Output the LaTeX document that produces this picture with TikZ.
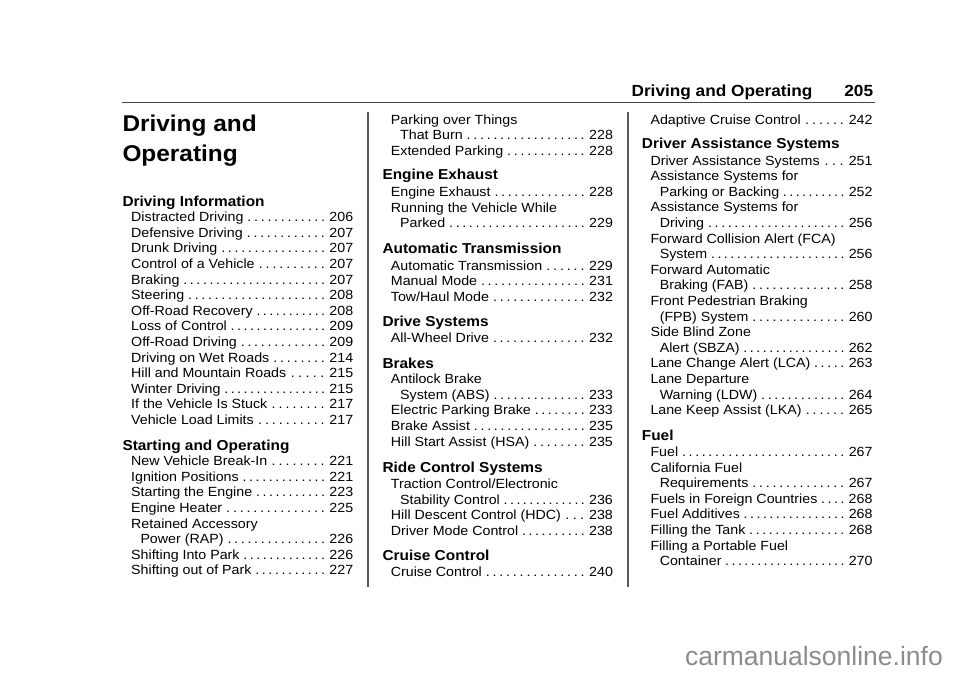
\documentclass[tikz,border=0pt]{standalone}
\usepackage{fontspec}
\setmainfont{Liberation Sans}[FakeStretch=1.07]
\newfontfamily\wmfont{Liberation Sans}
\usetikzlibrary{positioning}

% one line of the contents, with dot leaders up to the page number
\newcommand\tocpg[3]{\hbox to #1{#2\hspace{2.5pt}\xleaders\hbox to 6.4pt{\hss.\hss}\hfill\hspace{3pt}#3}}
\def\fullwd{222pt}
\def\subwd{212.7pt}

\tikzset{
  entry/.style={anchor=base west, inner sep=0pt, font=\fontsize{13.3}{15.6}\selectfont},
  subentry/.style={entry},
  head/.style={anchor=base west, inner sep=0pt, font=\bfseries\fontsize{14.4}{17}\selectfont},
  rule/.style={draw=black!72, line width=1pt},
  divider/.style={draw=black!65, line width=1.3pt}
}

\begin{document}
\begin{tikzpicture}[x=1pt,y=-1pt]
  \useasboundingbox (0,0) rectangle (960,678);

  % running head
  \node [anchor=base east, inner sep=0pt, font=\bfseries\fontsize{16.1}{19}\selectfont] (runhead) at (812.7,96.7) {Driving and Operating};
  \node [anchor=base east, inner sep=0pt, font=\bfseries\fontsize{16.1}{19}\selectfont] (pageno) at (873.3,96.7) {205};
  \coordinate (ruleL) at (122,102);
  \coordinate (ruleR) at (875,102);
  \draw [rule] (ruleL) -- (ruleR);

  % column rules
  \coordinate (divAtop) at (368,112);
  \coordinate (divAbot) at (368,587);
  \coordinate (divBtop) at (628,112);
  \coordinate (divBbot) at (628,587);
  \draw [divider] (divAtop) -- (divAbot);
  \draw [divider] (divBtop) -- (divBbot);

  % column 1
  \node [anchor=base west, inner sep=0pt, font=\bfseries\fontsize{22.8}{30}\selectfont] (titleA) at (122.3,131.5) {Driving and};
  \node [anchor=base west, inner sep=0pt, font=\bfseries\fontsize{22.8}{30}\selectfont] (titleB) at (122.3,161) {Operating};
  \node [head] (hInfo) at (122.3,206) {Driving Information};
  \node [entry] (distracted) at (131,221.7) {\tocpg{\fullwd}{Distracted Driving}{206}};
  \node [entry] (defensive) at (131,237.3) {\tocpg{\fullwd}{Defensive Driving}{207}};
  \node [entry] (drunk) at (131,252.9) {\tocpg{\fullwd}{Drunk Driving}{207}};
  \node [entry] (control) at (131,268.5) {\tocpg{\fullwd}{Control of a Vehicle}{207}};
  \node [entry] (braking) at (131,284.1) {\tocpg{\fullwd}{Braking}{207}};
  \node [entry] (steering) at (131,299.7) {\tocpg{\fullwd}{Steering}{208}};
  \node [entry] (recovery) at (131,315.3) {\tocpg{\fullwd}{Off-Road Recovery}{208}};
  \node [entry] (loss) at (131,330.9) {\tocpg{\fullwd}{Loss of Control}{209}};
  \node [entry] (offroad) at (131,346.5) {\tocpg{\fullwd}{Off-Road Driving}{209}};
  \node [entry] (wet) at (131,362.1) {\tocpg{\fullwd}{Driving on Wet Roads}{214}};
  \node [entry] (hill) at (131,377.7) {\tocpg{\fullwd}{Hill and Mountain Roads}{215}};
  \node [entry] (winter) at (131,393.3) {\tocpg{\fullwd}{Winter Driving}{215}};
  \node [entry] (stuck) at (131,408.9) {\tocpg{\fullwd}{If the Vehicle Is Stuck}{217}};
  \node [entry] (load) at (131,424.5) {\tocpg{\fullwd}{Vehicle Load Limits}{217}};
  \node [head] (hStart) at (122.3,450) {Starting and Operating};
  \node [entry] (breakin) at (131,465.6) {\tocpg{\fullwd}{New Vehicle Break-In}{221}};
  \node [entry] (ignition) at (131,481.2) {\tocpg{\fullwd}{Ignition Positions}{221}};
  \node [entry] (starteng) at (131,496.8) {\tocpg{\fullwd}{Starting the Engine}{223}};
  \node [entry] (heater) at (131,512.4) {\tocpg{\fullwd}{Engine Heater}{225}};
  \node [entry] (rapA) at (131,528) {Retained Accessory};
  \node [subentry] (rapB) at (140.3,543.6) {\tocpg{\subwd}{Power (RAP)}{226}};
  \node [entry] (intopark) at (131,559.2) {\tocpg{\fullwd}{Shifting Into Park}{226}};
  \node [entry] (outpark) at (131,574.8) {\tocpg{\fullwd}{Shifting out of Park}{227}};

  % column 2
  \node [entry] (burnA) at (390.7,124) {Parking over Things};
  \node [subentry] (burnB) at (400,139.6) {\tocpg{\subwd}{That Burn}{228}};
  \node [entry] (extended) at (390.7,155.2) {\tocpg{\fullwd}{Extended Parking}{228}};
  \node [head] (hExhaust) at (382.3,179.5) {Engine Exhaust};
  \node [entry] (exhaust) at (390.7,196.5) {\tocpg{\fullwd}{Engine Exhaust}{228}};
  \node [entry] (parkedA) at (390.7,212.1) {Running the Vehicle While};
  \node [subentry] (parkedB) at (400,227.7) {\tocpg{\subwd}{Parked}{229}};
  \node [head] (hTrans) at (382.3,253) {Automatic Transmission};
  \node [entry] (autotrans) at (390.7,270) {\tocpg{\fullwd}{Automatic Transmission}{229}};
  \node [entry] (manual) at (390.7,285.6) {\tocpg{\fullwd}{Manual Mode}{231}};
  \node [entry] (towhaul) at (390.7,301.2) {\tocpg{\fullwd}{Tow/Haul Mode}{232}};
  \node [head] (hDrive) at (382.3,326) {Drive Systems};
  \node [entry] (awd) at (390.7,342.7) {\tocpg{\fullwd}{All-Wheel Drive}{232}};
  \node [head] (hBrakes) at (382.3,368) {Brakes};
  \node [entry] (absA) at (390.7,383.7) {Antilock Brake};
  \node [subentry] (absB) at (400,399.3) {\tocpg{\subwd}{System (ABS)}{233}};
  \node [entry] (epb) at (390.7,414.9) {\tocpg{\fullwd}{Electric Parking Brake}{233}};
  \node [entry] (assist) at (390.7,430.5) {\tocpg{\fullwd}{Brake Assist}{235}};
  \node [entry] (hsa) at (390.7,446.1) {\tocpg{\fullwd}{Hill Start Assist (HSA)}{235}};
  \node [head] (hRide) at (382.3,472) {Ride Control Systems};
  \node [entry] (tractA) at (390.7,488.5) {Traction Control/Electronic};
  \node [subentry] (tractB) at (400,504.1) {\tocpg{\subwd}{Stability Control}{236}};
  \node [entry] (hdc) at (390.7,519.7) {\tocpg{\fullwd}{Hill Descent Control (HDC)}{238}};
  \node [entry] (mode) at (390.7,535.3) {\tocpg{\fullwd}{Driver Mode Control}{238}};
  \node [head] (hCruise) at (382.3,560.7) {Cruise Control};
  \node [entry] (cruise) at (390.7,576.7) {\tocpg{\fullwd}{Cruise Control}{240}};

  % column 3
  \node [entry] (acc) at (650.3,124) {\tocpg{\fullwd}{Adaptive Cruise Control}{242}};
  \node [head] (hAssist) at (641.7,148.5) {Driver Assistance Systems};
  \node [entry] (das) at (650.3,165) {\tocpg{\fullwd}{Driver Assistance Systems}{251}};
  \node [entry] (backA) at (650.3,180.6) {Assistance Systems for};
  \node [subentry] (backB) at (659.6,196.2) {\tocpg{\subwd}{Parking or Backing}{252}};
  \node [entry] (asdA) at (650.3,211.8) {Assistance Systems for};
  \node [subentry] (asdB) at (659.6,227.4) {\tocpg{\subwd}{Driving}{256}};
  \node [entry] (fcaA) at (650.3,243) {Forward Collision Alert (FCA)};
  \node [subentry] (fcaB) at (659.6,258.6) {\tocpg{\subwd}{System}{256}};
  \node [entry] (fabA) at (650.3,274.2) {Forward Automatic};
  \node [subentry] (fabB) at (659.6,289.8) {\tocpg{\subwd}{Braking (FAB)}{258}};
  \node [entry] (fpbA) at (650.3,305.4) {Front Pedestrian Braking};
  \node [subentry] (fpbB) at (659.6,321) {\tocpg{\subwd}{(FPB) System}{260}};
  \node [entry] (sbzaA) at (650.3,336.6) {Side Blind Zone};
  \node [subentry] (sbzaB) at (659.6,352.2) {\tocpg{\subwd}{Alert (SBZA)}{262}};
  \node [entry] (lca) at (650.3,367.8) {\tocpg{\fullwd}{Lane Change Alert (LCA)}{263}};
  \node [entry] (ldwA) at (650.3,383.4) {Lane Departure};
  \node [subentry] (ldwB) at (659.6,399) {\tocpg{\subwd}{Warning (LDW)}{264}};
  \node [entry] (lka) at (650.3,414.6) {\tocpg{\fullwd}{Lane Keep Assist (LKA)}{265}};
  \node [head] (hFuel) at (641.7,440) {Fuel};
  \node [entry] (fuel) at (650.3,456.5) {\tocpg{\fullwd}{Fuel}{267}};
  \node [entry] (caA) at (650.3,472.1) {California Fuel};
  \node [subentry] (caB) at (659.6,487.7) {\tocpg{\subwd}{Requirements}{267}};
  \node [entry] (foreign) at (650.3,503.3) {\tocpg{\fullwd}{Fuels in Foreign Countries}{268}};
  \node [entry] (additives) at (650.3,518.9) {\tocpg{\fullwd}{Fuel Additives}{268}};
  \node [entry] (tank) at (650.3,534.5) {\tocpg{\fullwd}{Filling the Tank}{268}};
  \node [entry] (portA) at (650.3,550.1) {Filling a Portable Fuel};
  \node [subentry] (portB) at (659.6,565.7) {\tocpg{\subwd}{Container}{270}};

  % watermark
  \node [anchor=base east, inner sep=0pt, text=black!45, font=\wmfont\fontsize{26.5}{30}\selectfont] (mark) at (943,665) {carmanualsonline.info};
\end{tikzpicture}
\end{document}
